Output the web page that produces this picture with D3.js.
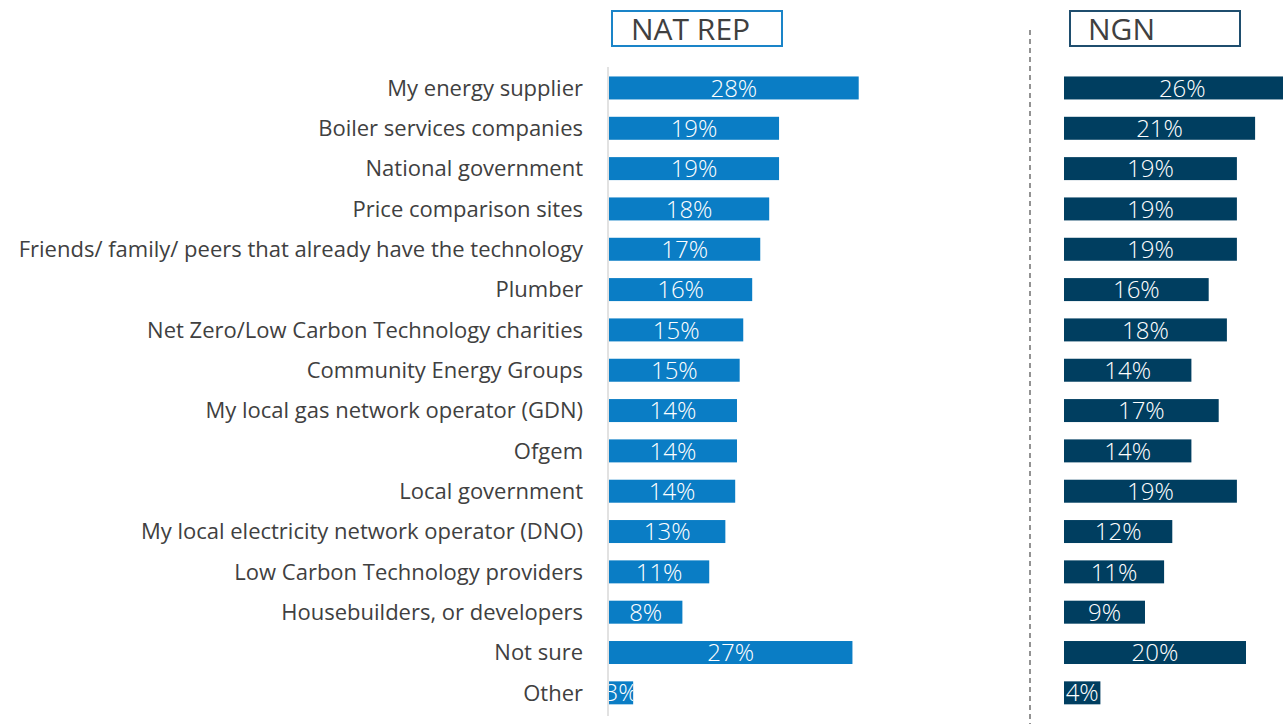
<!DOCTYPE html>
<html>
<head>
<meta charset="utf-8">
<script src="https://cdn.jsdelivr.net/npm/d3@7"></script>
<style>
html,body{margin:0;padding:0;background:#fff;}
svg{display:block;}
</style>
</head>
<body>
<svg id="chart" width="1283" height="724"></svg>
<script>
const categories = [
  "My energy supplier",
  "Boiler services companies",
  "National government",
  "Price comparison sites",
  "Friends/ family/ peers that already have the technology",
  "Plumber",
  "Net Zero/Low Carbon Technology charities",
  "Community Energy Groups",
  "My local gas network operator (GDN)",
  "Ofgem",
  "Local government",
  "My local electricity network operator (DNO)",
  "Low Carbon Technology providers",
  "Housebuilders, or developers",
  "Not sure",
  "Other"
];
const natRepValues = [27.9, 19.0, 19.0, 17.9, 16.9, 16.0, 15.0, 14.6, 14.3, 14.3, 14.1, 13.0, 11.2, 8.2, 27.2, 2.7];
const ngnValues    = [26.0, 21.0, 19.0, 19.0, 19.0, 15.9, 17.9, 14.0, 17.0, 14.0, 19.0, 11.9, 11.0, 8.9, 20.0, 4.0];
const panelTitles = ["NAT REP", "NGN"];

const svg = d3.select("#chart");
const FONT = "'Open Sans', 'Noto Sans', sans-serif";

const y = d3.scaleBand().domain(categories).range([67.8, 713]).paddingInner(0.43).paddingOuter(0.215);
const xNat = d3.scaleLinear().domain([0, 100]).range([609, 609 + 895]);
const xNgn = d3.scaleLinear().domain([0, 100]).range([1064, 1064 + 910]);

// category labels
svg.append("g").selectAll("text").data(categories).join("text")
  .attr("x", 583)
  .attr("y", d => y(d) + y.bandwidth() / 2)
  .attr("dy", "0.35em")
  .attr("text-anchor", "end")
  .attr("font-family", FONT)
  .attr("font-size", 22)
  .attr("fill", "#404040")
  .text(d => d);

// NAT REP axis line
svg.append("line")
  .attr("x1", 608).attr("x2", 608).attr("y1", 67).attr("y2", 716)
  .attr("stroke", "#d9d9d9").attr("stroke-width", 1.5);

// dashed separator
svg.append("line")
  .attr("x1", 1030).attr("x2", 1030).attr("y1", 30).attr("y2", 724)
  .attr("stroke", "#595959").attr("stroke-width", 1.3).attr("stroke-dasharray", "5,4");

function drawPanel(values, x, color, clipId) {
  const g = svg.append("g");
  const data = categories.map((c, i) => ({c, v: values[i]}));
  const defs = svg.append("defs");
  data.forEach((d, i) => {
    defs.append("clipPath").attr("id", clipId + i).append("rect")
      .attr("x", x(0)).attr("y", y(d.c))
      .attr("width", x(d.v) - x(0)).attr("height", y.bandwidth());
  });
  g.selectAll("rect").data(data).join("rect")
    .attr("x", x(0))
    .attr("y", d => y(d.c))
    .attr("width", d => x(d.v) - x(0))
    .attr("height", y.bandwidth())
    .attr("fill", color);
  g.selectAll("text").data(data).join("text")
    .attr("x", d => (x(0) + x(d.v)) / 2)
    .attr("y", d => y(d.c) + y.bandwidth() / 2)
    .attr("dy", "0.36em")
    .attr("text-anchor", "middle")
    .attr("font-family", FONT)
    .attr("font-weight", 300)
    .attr("font-size", 24)
    .attr("fill", "#ffffff")
    .attr("clip-path", (d, i) => `url(#${clipId}${i})`)
    .text(d => Math.round(d.v) + "%");
}
drawPanel(natRepValues, xNat, "#0a7dc5", "cn");
drawPanel(ngnValues, xNgn, "#003e60", "cg");

// panel headers
const headers = [
  {t: panelTitles[0], x: 612, stroke: "#1a84c8", tx: 631},
  {t: panelTitles[1], x: 1070, stroke: "#1f4e6e", tx: 1088}
];
headers.forEach(h => {
  svg.append("rect").attr("x", h.x).attr("y", 11).attr("width", 170).attr("height", 35)
    .attr("fill", "#fff").attr("stroke", h.stroke).attr("stroke-width", 2);
  svg.append("text").attr("x", h.tx).attr("y", 29).attr("dy", "0.36em")
    .attr("font-family", FONT).attr("font-size", 30).attr("fill", "#404040")
    .text(h.t);
});
</script>
</body>
</html>
